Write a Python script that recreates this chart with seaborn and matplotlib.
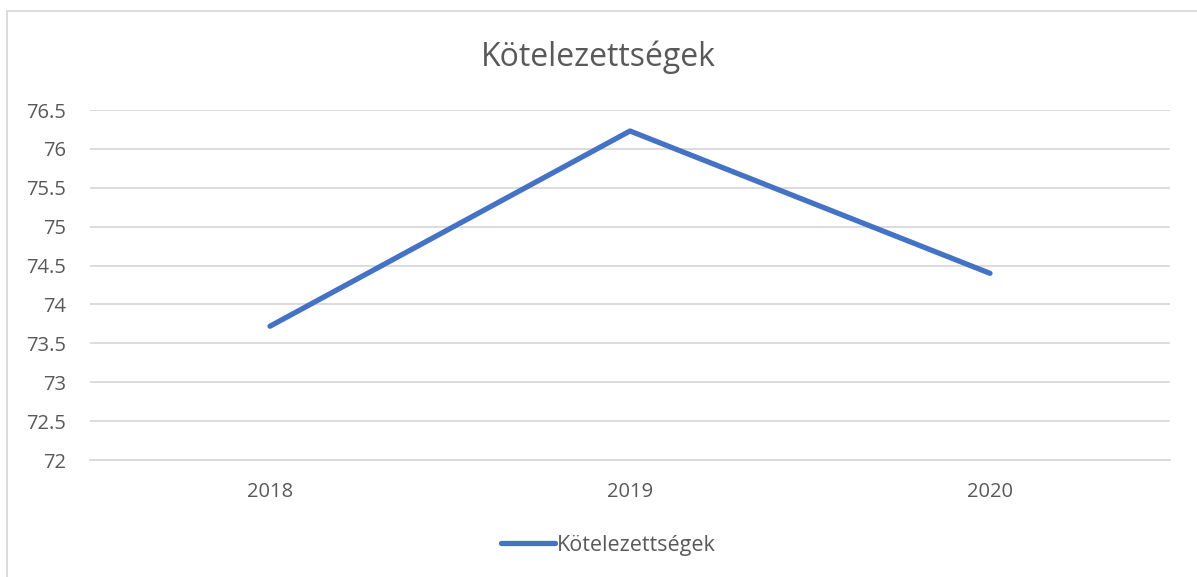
import matplotlib
matplotlib.use('Agg')
import matplotlib.pyplot as plt
from matplotlib.lines import Line2D
import pandas as pd
import seaborn as sns

# chart data
years = ['2018', '2019', '2020']
values = [73.72, 76.23, 74.40]
series_name = 'Kötelezettségek'
y_ticks = [72, 72.5, 73, 73.5, 74, 74.5, 75, 75.5, 76, 76.5]

df = pd.DataFrame({'year': years, 'value': values})

sns.set_theme(style='white')
plt.rcParams['font.family'] = ['Open Sans', 'DejaVu Sans']

fig = plt.figure(figsize=(11.97, 5.77), dpi=100)
ax = fig.add_axes([90 / 1197, 1 - 460 / 577, 1080 / 1197, 350 / 577])

sns.lineplot(data=df, x='year', y='value', ax=ax, color='#4472C4',
             linewidth=3.8, solid_capstyle='round', label=series_name, sort=False)

ax.set_xlim(-0.5, 2.5)
ax.set_ylim(72, 76.5)
ax.set_yticks(y_ticks)
ax.set_yticklabels([f'{t:g}' for t in y_ticks])
ax.grid(axis='y', color='#d9d9d9', linewidth=1.3)
ax.set_axisbelow(True)
for side in ['top', 'right', 'left']:
    ax.spines[side].set_visible(False)
ax.spines['bottom'].set_color('#d9d9d9')
ax.spines['bottom'].set_linewidth(1.3)
ax.tick_params(axis='both', length=0, labelsize=14.5, colors='#595959')
ax.tick_params(axis='x', pad=16)
ax.tick_params(axis='y', pad=17)
ax.set_xlabel('')
ax.set_ylabel('')

fig.text(0.5, 1 - 57 / 577, series_name, ha='center', va='center',
         fontsize=23, color='#595959')

# legend sits a little left of centre, like the original
ax.legend(loc='center', bbox_to_anchor=(0.48, (460 - 545) / 350), frameon=False,
          fontsize=15.5, labelcolor='#595959', handlelength=2.5, handletextpad=0.1)

# chart frame (left and top edges)
fig.add_artist(Line2D([7 / 1197, 7 / 1197], [0, 1 - 11 / 577], color='#d9d9d9', linewidth=1.3))
fig.add_artist(Line2D([7 / 1197, 1], [1 - 11 / 577, 1 - 11 / 577], color='#d9d9d9', linewidth=1.3))

fig.savefig('out.png', dpi=100)
